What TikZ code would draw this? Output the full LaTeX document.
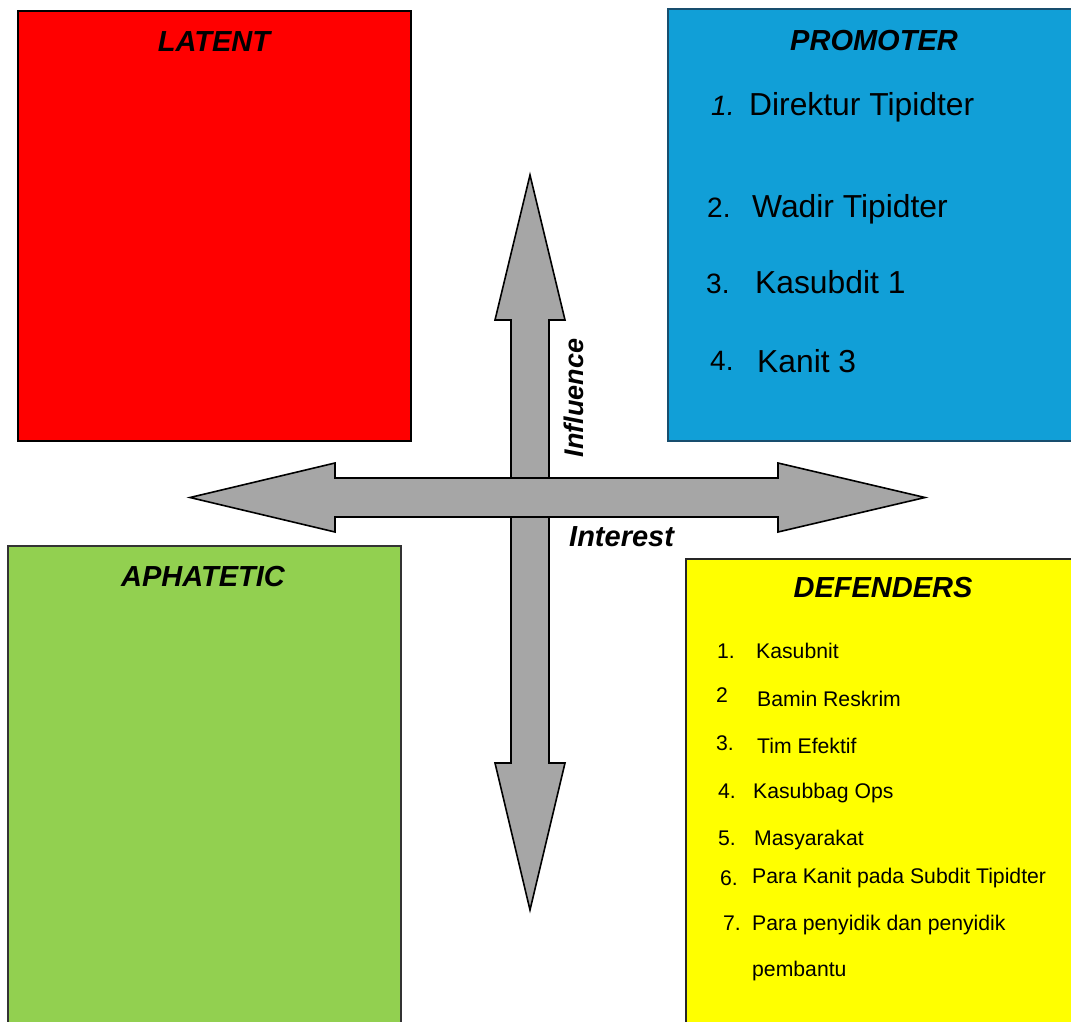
\documentclass[tikz,border=0pt]{standalone}
\usepackage{fontspec}
\setmainfont{Liberation Sans}
\definecolor{latred}{RGB}{255,0,0}
\definecolor{promblue}{RGB}{17,159,215}
\definecolor{promedge}{RGB}{24,78,110}
\definecolor{aphgreen}{RGB}{146,208,80}
\definecolor{defyellow}{RGB}{255,255,0}
\definecolor{arrowgray}{RGB}{166,166,166}
\tikzset{
  quad/.style={line width=2pt},
  title/.style={anchor=base,inner sep=0pt,font=\fontsize{29}{34}\selectfont\bfseries\itshape},
  pitem/.style={anchor=base west,inner sep=0pt,font=\fontsize{31.8}{36}\selectfont},
  pnum/.style={anchor=base west,inner sep=0pt,font=\fontsize{28}{32}\selectfont},
  ditem/.style={anchor=base west,inner sep=0pt,font=\fontsize{21.2}{25}\selectfont},
  axislabel/.style={inner sep=0pt,font=\fontsize{27}{32}\selectfont\bfseries\itshape},
  bigarrow/.style={fill=arrowgray,draw=black,line width=1.6pt,line join=miter}
}
\begin{document}
\begin{tikzpicture}[x=1pt,y=-1pt]
\useasboundingbox (0,0) rectangle (1071,1021);
\begin{scope}
\clip (0,0) rectangle (1071,1021);
% quadrant boxes
\path[quad,fill=latred,draw=black] (18,11) rectangle (411,441);
\path[quad,fill=promblue,draw=promedge] (668,9) rectangle (1080,441);
\path[quad,fill=aphgreen,draw=black!80] (8,546) rectangle (401,1030);
\path[quad,fill=defyellow,draw=black!85] (686,559) rectangle (1080,1030);
% arrows
\path[bigarrow] (511,320) -- (495,320) -- (530,175) -- (565,320) -- (549,320)
  -- (549,763) -- (565,763) -- (530,910) -- (495,763) -- (511,763) -- cycle;
\path[bigarrow] (335,478) -- (335,463) -- (190,497.5) -- (335,532) -- (335,517)
  -- (778,517) -- (778,532) -- (925,497.5) -- (778,463) -- (778,478) -- cycle;
\end{scope}
% titles
\node[title] (tlatent) at (214,51) {LATENT};
\node[title] (tprom) at (874,50) {PROMOTER};
\node[title] (taph) at (203,586) {APHATETIC};
\node[title] (tdef) at (883,597) {DEFENDERS};
% axis labels
\node[axislabel,anchor=base,rotate=90] (influence) at (583,398) {Influence};
\node[axislabel,anchor=base west,font=\fontsize{29}{34}\selectfont\bfseries\itshape] (interest) at (569,546) {Interest};
% promoter items
\node[pnum,font=\fontsize{28}{32}\selectfont\itshape] (pn1) at (711,115) {1.};
\node[pitem] (p1) at (749,115) {Direktur Tipidter};
\node[pnum] (pn2) at (707,217) {2.};
\node[pitem] (p2) at (752,217) {Wadir Tipidter};
\node[pnum] (pn3) at (706,293) {3.};
\node[pitem] (p3) at (755,293) {Kasubdit 1};
\node[pnum] (pn4) at (710,370) {4.};
\node[pitem] (p4) at (757,372) {Kanit 3};
% defenders items
\node[ditem] (dn1) at (717,658) {1.};
\node[ditem] (d1) at (756,658) {Kasubnit};
\node[ditem] (dn2) at (716,702) {2};
\node[ditem] (d2) at (757,706) {Bamin Reskrim};
\node[ditem] (dn3) at (716,750) {3.};
\node[ditem] (d3) at (757,753) {Tim Efektif};
\node[ditem] (dn4) at (718,798) {4.};
\node[ditem] (d4) at (753,798) {Kasubbag Ops};
\node[ditem] (dn5) at (718,845) {5.};
\node[ditem] (d5) at (754,845) {Masyarakat};
\node[ditem] (dn6) at (720,885) {6.};
\node[ditem] (d6) at (752,883) {Para Kanit pada Subdit Tipidter};
\node[ditem] (dn7) at (723,930) {7.};
\node[ditem] (d7) at (752,930) {Para penyidik dan penyidik};
\node[ditem] (d7b) at (752,976) {pembantu};
\end{tikzpicture}
\end{document}
